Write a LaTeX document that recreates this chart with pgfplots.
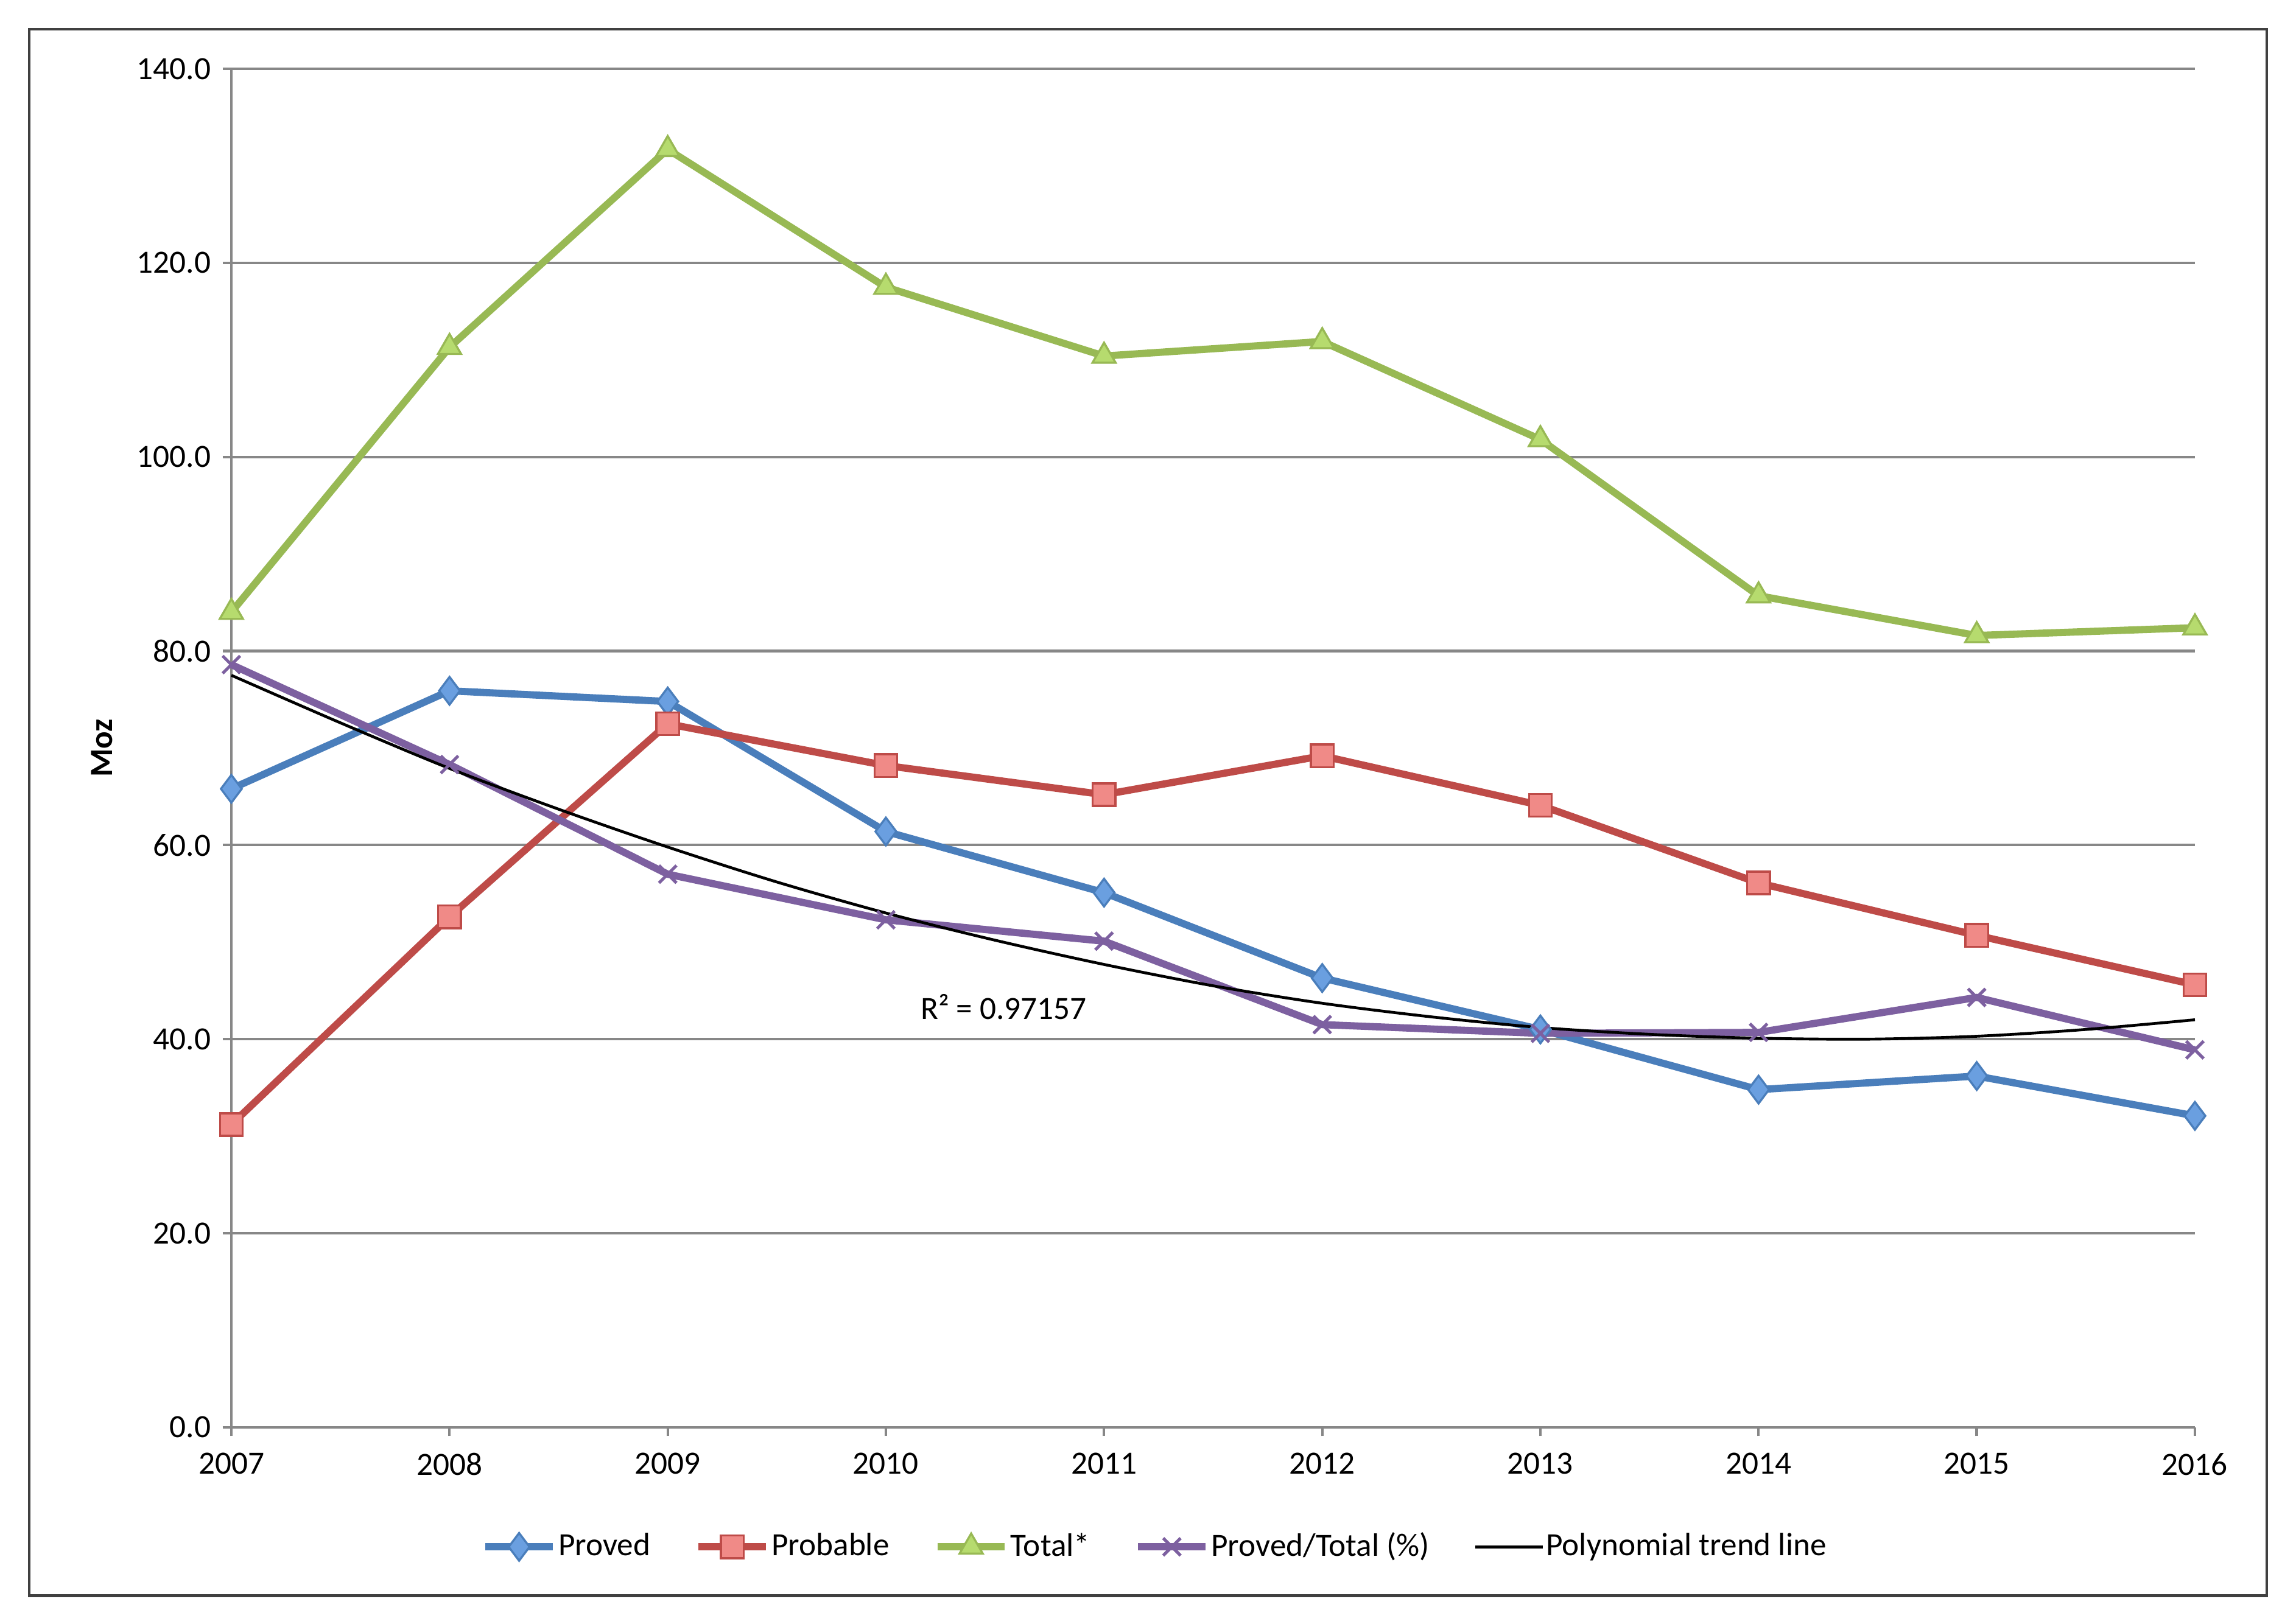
\documentclass[border=0pt]{standalone}
\usepackage{fontspec}
\setmainfont{Carlito}
\usepackage{pgfplots}
\pgfplotsset{compat=1.18}
\definecolor{cblue}{HTML}{4A7EBB}
\definecolor{cbluef}{HTML}{6A9FE0}
\definecolor{cred}{HTML}{BE4B48}
\definecolor{credf}{HTML}{F08A87}
\definecolor{cgreen}{HTML}{98B954}
\definecolor{cgreenf}{HTML}{B6DB6E}
\definecolor{cpurple}{HTML}{7D60A0}
\definecolor{gridgray}{HTML}{878787}
\begin{document}
\fontsize{6.3}{7.6}\selectfont
\begin{tikzpicture}
\path[use as bounding box] (0,0) rectangle (15.68,-11.09);
\draw[black!75, line width=0.5pt] (0.20,-0.20) rectangle (15.48,-10.90);
\begin{axis}[
  at={(1.58cm,-9.75cm)}, anchor=south west,
  scale only axis, width=13.41cm, height=9.28cm,
  xmin=2007, xmax=2016, ymin=0, ymax=140,
  axis x line*=bottom, axis y line*=left,
  axis line style={color=gridgray, line width=0.5pt},
  xtick={2007,2008,...,2016},
  ytick={0,20,...,140},
  ymajorgrids, grid style={color=gridgray, line width=0.5pt},
  tick style={color=gridgray, line width=0.5pt},
  tick align=outside, major tick length=0.06cm,
  /pgf/number format/assume math mode=true,
  x tick label style={/pgf/number format/1000 sep={}},
  y tick label style={/pgf/number format/.cd, fixed, fixed zerofill, precision=1},
  xticklabel style={yshift=-1pt},
  ylabel={\textbf{Moz}},
  every axis y label/.style={at={(axis description cs:-0.066,0.5)}, rotate=90, anchor=center},
  clip=false,
  legend columns=5,
  legend style={at={(axis description cs:0.4705,-0.088)}, anchor=center, draw=none, fill=none,
    nodes={inner sep=0.4pt},
    /tikz/every odd column/.append style={column sep=0cm},
    /tikz/every even column/.append style={column sep=0.29cm}, inner sep=0pt},
  legend cell align=left,
  legend image code/.code={\draw[mark repeat=2,mark phase=2] plot coordinates {(0cm,0cm) (0.23cm,0cm) (0.46cm,0cm)};},
]
\addplot[cblue, line width=1.4pt, mark=diamond*, mark size=2.7pt, mark options={fill=cbluef, draw=cblue, line width=0.4pt}]
 coordinates {(2007,65.8) (2008,75.9) (2009,74.8) (2010,61.4) (2011,55.1) (2012,46.3) (2013,41.0) (2014,34.8) (2015,36.2) (2016,32.1)};
\addlegendentry{Proved}
\addplot[cred, line width=1.4pt, mark=square*, mark size=2.2pt, mark options={fill=credf, draw=cred, line width=0.4pt}]
 coordinates {(2007,31.2) (2008,52.6) (2009,72.5) (2010,68.2) (2011,65.2) (2012,69.2) (2013,64.1) (2014,56.1) (2015,50.7) (2016,45.6)};
\addlegendentry{Probable}
\addplot[cgreen, line width=1.4pt, mark=triangle*, mark size=2.6pt, mark options={fill=cgreenf, draw=cgreen, line width=0.4pt}]
 coordinates {(2007,84.0) (2008,111.3) (2009,131.7) (2010,117.5) (2011,110.4) (2012,111.9) (2013,101.8) (2014,85.7) (2015,81.6) (2016,82.4)};
\addlegendentry{Total*}
\addplot[cpurple, line width=1.4pt, mark=x, mark size=2.4pt, mark options={draw=cpurple, line width=0.6pt}]
 coordinates {(2007,78.6) (2008,68.3) (2009,57.0) (2010,52.3) (2011,50.1) (2012,41.5) (2013,40.6) (2014,40.7) (2015,44.3) (2016,38.9)};
\addlegendentry{Proved/Total (\%)}
\addplot[black, line width=0.55pt, smooth, no marks]
 coordinates {(2007,77.5) (2007.5,72.6) (2008,67.9) (2008.5,63.7) (2009,59.8) (2009.5,56.2) (2010,53.0) (2010.5,50.2) (2011,47.7) (2011.5,45.5) (2012,43.7) (2012.5,42.3) (2013,41.2) (2013.5,40.5) (2014,40.1) (2014.5,40.0) (2015,40.3) (2015.5,41.0) (2016,42.0)};
\addlegendentry{Polynomial trend line}
\node[black, anchor=center] at (axis cs:2010.54,43.3) {R² = 0.97157};
\end{axis}
\end{tikzpicture}
\end{document}
